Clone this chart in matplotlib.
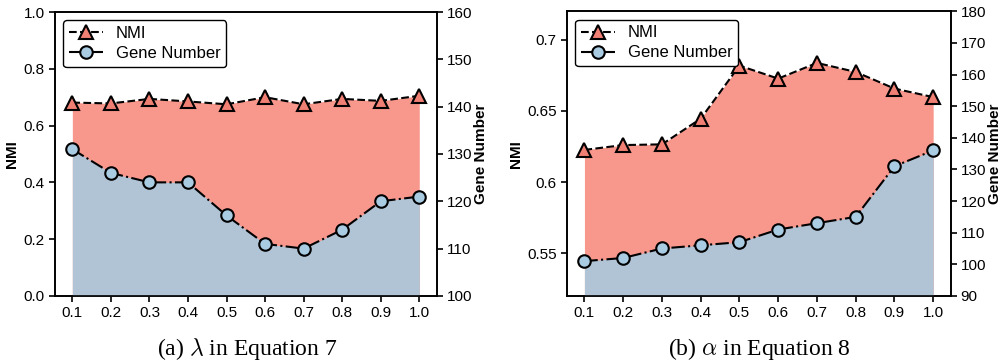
import matplotlib
matplotlib.use('Agg')
import matplotlib.pyplot as plt
import numpy as np

plt.rcParams['font.family'] = ['Liberation Sans', 'DejaVu Sans']
plt.rcParams['mathtext.fontset'] = 'cm'

x = [0.1, 0.2, 0.3, 0.4, 0.5, 0.6, 0.7, 0.8, 0.9, 1.0]
xticks = ['0.1', '0.2', '0.3', '0.4', '0.5', '0.6', '0.7', '0.8', '0.9', '1.0']

# (a) lambda
nmi_a = [0.681, 0.678, 0.694, 0.685, 0.675, 0.700, 0.675, 0.694, 0.687, 0.705]
gene_a = [131, 126, 124, 124, 117, 111, 110, 114, 120, 121]

# (b) alpha
nmi_b = [0.6226, 0.626, 0.6265, 0.6445, 0.6818, 0.6727, 0.6837, 0.6774, 0.6657, 0.6597]
gene_b = [101, 102, 105, 106, 107, 111, 113, 115, 131, 136]

red_fill = '#f8978c'
red_mk = '#f07f74'
blue_fill = '#b0c4d6'
blue_mk = '#a9cce3'

fig = plt.figure(figsize=(10, 3.64), dpi=100)
ax_a = fig.add_axes([0.055, 0.187, 0.382, 0.780])
ax_b = fig.add_axes([0.567, 0.187, 0.384, 0.782])


def panel(ax, nmi, gene, ylim, yticks, ylabels, glim, gticks):
    ax.fill_between(x, ylim[0], nmi, color=red_fill, lw=0)
    l1, = ax.plot(x, nmi, ls='--', color='black', lw=1.5, marker='^',
                  ms=9.5, mfc=red_mk, mec='black', mew=1.5, label='NMI')
    ax.set_xlim(0.055, 1.046)
    ax.set_ylim(*ylim)
    ax.set_yticks(yticks)
    ax.set_yticklabels(ylabels)
    ax.set_xticks(x)
    ax.set_xticklabels(xticks)
    ax.set_ylabel('NMI', fontweight='bold', fontsize=11, labelpad=3)
    ax.tick_params(labelsize=11, width=1.2, length=4)
    for s in ax.spines.values():
        s.set_linewidth(1.2)

    ax2 = ax.twinx()
    ax2.fill_between(x, glim[0], gene, color=blue_fill, lw=0)
    l2, = ax2.plot(x, gene, ls='-.', color='black', lw=1.5, marker='o',
                   ms=9, mfc=blue_mk, mec='black', mew=1.5, label='Gene Number')
    ax2.set_ylim(*glim)
    ax2.set_yticks(gticks)
    ax2.set_ylabel('Gene Number', fontweight='bold', fontsize=11, labelpad=1)
    ax2.tick_params(labelsize=11, width=1.2, length=4, pad=3)
    for s in ax2.spines.values():
        s.set_linewidth(1.2)

    leg = ax2.legend([l1, l2], ['NMI', 'Gene Number'], loc='upper left',
                     fontsize=12, frameon=True, fancybox=True, framealpha=1,
                     edgecolor='black', borderaxespad=0.5, labelspacing=0.3,
                     borderpad=0.35, handletextpad=0.8)
    leg.get_frame().set_linewidth(1.0)


panel(ax_a, nmi_a, gene_a, (0.0, 1.0), [0.0, 0.2, 0.4, 0.6, 0.8, 1.0],
      ['0.0', '0.2', '0.4', '0.6', '0.8', '1.0'], (100, 160), range(100, 161, 10))
panel(ax_b, nmi_b, gene_b, (0.52, 0.72), [0.55, 0.6, 0.65, 0.7],
      ['0.55', '0.6', '0.65', '0.7'], (90, 180), range(90, 181, 10))

fig.text(0.247, 0.04, r'(a) $\lambda$ in Equation 7', ha='center', va='center',
         fontsize=17, family='Liberation Serif')
fig.text(0.759, 0.04, r'(b) $\alpha$ in Equation 8', ha='center', va='center',
         fontsize=17, family='Liberation Serif')

fig.savefig('out.png', dpi=100)
